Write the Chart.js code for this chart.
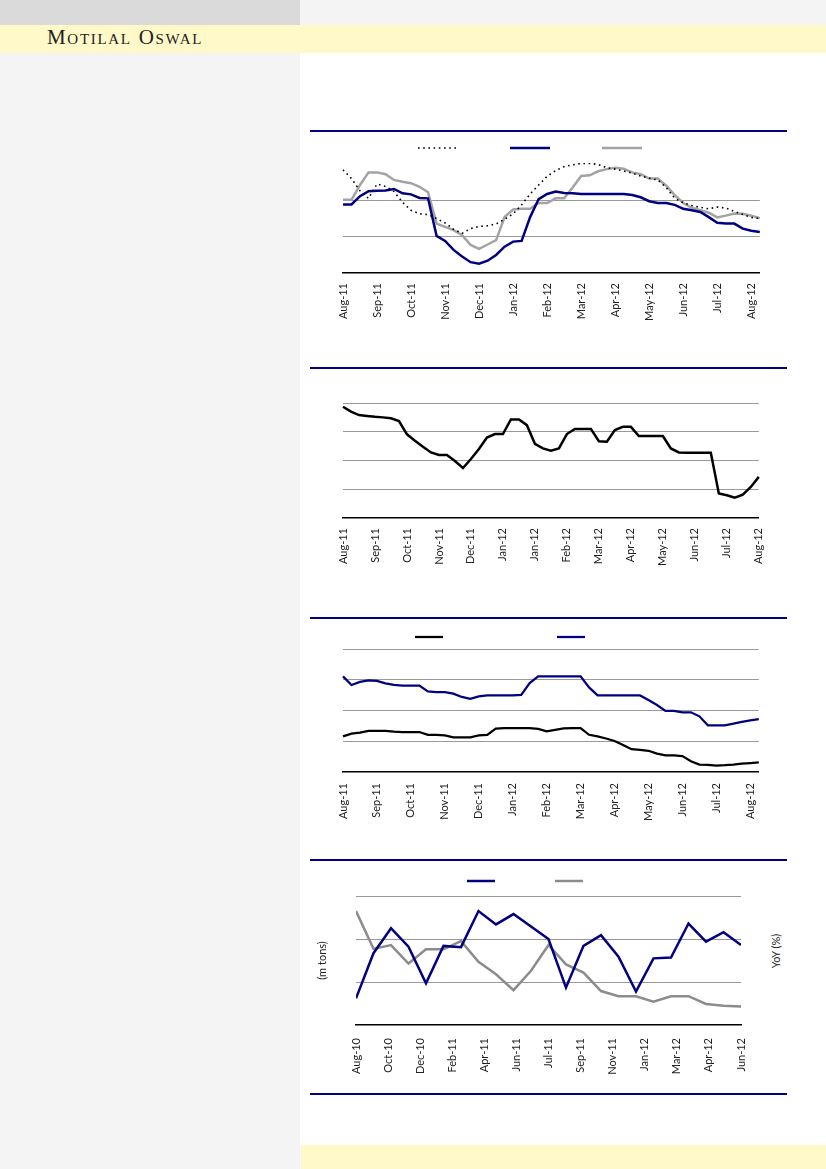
<!DOCTYPE html>
<html>
<head>
<meta charset="utf-8">
<script src="https://cdn.jsdelivr.net/npm/chart.js@4.4.1/dist/chart.umd.min.js"></script>
<style>
  body { margin: 0; width: 826px; height: 1169px; position: relative; overflow: hidden; background: #fff; font-family: Lato, sans-serif; }
  .abs { position: absolute; }
  #leftcol { left: 0; top: 0; width: 300px; height: 1169px; background: #f4f4f4; }
  #topright { left: 300px; top: 0; width: 526px; height: 25px; background: #f4f4f4; }
  #topleft { left: 0; top: 0; width: 300px; height: 25px; background: #dadada; }
  #band { left: 0; top: 25px; width: 826px; height: 28px; background: #fff8c9; }
  #brand { left: 47px; top: 25px; font-family: 'Liberation Serif', serif; font-variant: small-caps; font-size: 21px; letter-spacing: 1.7px; color: #222; }
  #footband { left: 301px; top: 1145px; width: 525px; height: 24px; background: #fff8c9; }
  .rule { left: 310px; width: 477px; height: 1.5px; background: #000080; }
  #yoy { left: 775px; top: 951px; transform: translate(-50%, -50%) rotate(-90deg); font-size: 11px; color: #222; white-space: nowrap; }
  canvas { position: absolute; }
</style>
</head>
<body>
<div class="abs" id="leftcol"></div>
<div class="abs" id="topright"></div>
<div class="abs" id="topleft"></div>
<div class="abs" id="band"></div>
<div class="abs" id="brand">Motilal Oswal</div>
<div class="abs" id="footband"></div>
<div class="abs rule" style="top:130px"></div>
<div class="abs rule" style="top:367px"></div>
<div class="abs rule" style="top:617px"></div>
<div class="abs rule" style="top:859px"></div>
<div class="abs rule" style="top:1093px"></div>
<div class="abs" id="yoy">YoY (%)</div>
<script>
// tick labels
const months1 = ['Aug-11', 'Sep-11', 'Oct-11', 'Nov-11', 'Dec-11', 'Jan-12', 'Feb-12', 'Mar-12', 'Apr-12', 'May-12', 'Jun-12', 'Jul-12', 'Aug-12'];
const months2 = ['Aug-11', 'Sep-11', 'Oct-11', 'Nov-11', 'Dec-11', 'Jan-12', 'Jan-12', 'Feb-12', 'Mar-12', 'Apr-12', 'May-12', 'Jun-12', 'Jul-12', 'Aug-12'];
const months3 = ['Aug-11', 'Sep-11', 'Oct-11', 'Nov-11', 'Dec-11', 'Jan-12', 'Feb-12', 'Mar-12', 'Apr-12', 'May-12', 'Jun-12', 'Jul-12', 'Aug-12'];
const months4 = ['Aug-10', 'Oct-10', 'Dec-10', 'Feb-11', 'Apr-11', 'Jun-11', 'Jul-11', 'Sep-11', 'Nov-11', 'Jan-12', 'Mar-12', 'Apr-12', 'Jun-12'];

// chart 1 (weekly)
const c1Dotted = [2.86, 2.62, 2.28, 2.07, 2.47, 2.40, 2.26, 1.96, 1.74, 1.64, 1.62, 1.51, 1.39, 1.21, 1.10, 1.23, 1.29, 1.31, 1.36, 1.49, 1.64, 1.89, 2.19, 2.44, 2.68, 2.84, 2.95, 3.00, 3.04, 3.04, 3.01, 2.92, 2.88, 2.83, 2.77, 2.69, 2.63, 2.58, 2.37, 2.07, 1.95, 1.87, 1.82, 1.78, 1.83, 1.80, 1.71, 1.62, 1.54, 1.51];
const c1Navy = [1.90, 1.90, 2.13, 2.27, 2.28, 2.29, 2.33, 2.21, 2.18, 2.08, 2.07, 1.03, 0.89, 0.64, 0.46, 0.30, 0.26, 0.34, 0.50, 0.73, 0.87, 0.89, 1.55, 2.05, 2.19, 2.26, 2.22, 2.21, 2.19, 2.19, 2.19, 2.19, 2.19, 2.19, 2.16, 2.10, 1.99, 1.94, 1.94, 1.89, 1.78, 1.74, 1.69, 1.55, 1.39, 1.37, 1.37, 1.23, 1.17, 1.14];
const c1Grey = [2.03, 2.03, 2.44, 2.79, 2.79, 2.74, 2.58, 2.53, 2.49, 2.39, 2.24, 1.37, 1.28, 1.19, 1.05, 0.78, 0.67, 0.79, 0.91, 1.55, 1.76, 1.78, 1.78, 1.94, 1.94, 2.07, 2.07, 2.37, 2.69, 2.71, 2.82, 2.88, 2.92, 2.89, 2.79, 2.74, 2.62, 2.62, 2.42, 2.16, 1.94, 1.81, 1.74, 1.67, 1.54, 1.59, 1.65, 1.64, 1.59, 1.52];

// chart 2 (weekly)
const c2Black = [3.87, 3.70, 3.58, 3.55, 3.52, 3.50, 3.47, 3.37, 2.91, 2.69, 2.48, 2.28, 2.19, 2.19, 1.98, 1.74, 2.05, 2.40, 2.80, 2.92, 2.92, 3.43, 3.43, 3.23, 2.58, 2.42, 2.34, 2.42, 2.92, 3.10, 3.10, 3.10, 2.67, 2.65, 3.06, 3.17, 3.17, 2.85, 2.85, 2.85, 2.85, 2.42, 2.28, 2.27, 2.27, 2.27, 2.27, 0.85, 0.79, 0.71, 0.81, 1.08, 1.43];

// chart 3 (weekly)
const c3Black = [1.16, 1.25, 1.28, 1.34, 1.34, 1.34, 1.31, 1.30, 1.30, 1.30, 1.21, 1.21, 1.19, 1.13, 1.13, 1.13, 1.19, 1.21, 1.41, 1.43, 1.43, 1.43, 1.43, 1.40, 1.32, 1.37, 1.42, 1.43, 1.43, 1.21, 1.16, 1.09, 1.01, 0.88, 0.74, 0.72, 0.69, 0.60, 0.54, 0.54, 0.52, 0.35, 0.24, 0.23, 0.21, 0.22, 0.24, 0.27, 0.29, 0.31];
const c3Navy = [3.11, 2.83, 2.93, 2.98, 2.96, 2.88, 2.83, 2.81, 2.81, 2.81, 2.62, 2.60, 2.60, 2.55, 2.44, 2.38, 2.46, 2.49, 2.49, 2.49, 2.49, 2.51, 2.89, 3.11, 3.11, 3.11, 3.11, 3.11, 3.11, 2.75, 2.49, 2.49, 2.49, 2.49, 2.49, 2.49, 2.34, 2.18, 1.99, 1.99, 1.94, 1.94, 1.81, 1.52, 1.52, 1.52, 1.57, 1.63, 1.68, 1.72];

// chart 4 (monthly): volume (m tons) and YoY (%)
const c4Navy = [0.62, 1.67, 2.25, 1.82, 0.97, 1.84, 1.81, 2.65, 2.34, 2.58, 2.29, 2.00, 0.87, 1.84, 2.09, 1.59, 0.78, 1.55, 1.57, 2.36, 1.94, 2.16, 1.86];
const c4Grey = [2.65, 1.77, 1.86, 1.43, 1.76, 1.76, 1.95, 1.47, 1.18, 0.81, 1.26, 1.86, 1.41, 1.22, 0.79, 0.67, 0.67, 0.54, 0.67, 0.67, 0.49, 0.45, 0.43];

Chart.defaults.font.family = 'Lato';
Chart.defaults.animation = false;

const NAVY = '#000080';

// one label on every 4th week
function weekLabels(months, n) {
    return Array.from({ length: n }, (_, i) => i % 4 === 0 ? (months[i / 4] || '') : '');
}

function xAxis(h, pad) {
    return {
        grid: { display: false, drawTicks: false },
        border: { display: true, color: '#000', width: 1.5 },
        ticks: { autoSkip: false, maxRotation: 90, minRotation: 90, padding: pad, color: '#222', font: { size: 11 } },
        afterFit: s => { s.height = h; }
    };
}

function yAxis(w, max, lines) {
    return {
        min: 0,
        max: max,
        ticks: { display: false, stepSize: 1 },
        border: { display: false },
        grid: {
            drawTicks: false,
            lineWidth: 1,
            color: c => (c.tick && lines.includes(c.tick.value)) ? '#999999' : 'rgba(0,0,0,0)'
        },
        afterFit: s => { s.width = w; }
    };
}

function legendOpts(size, boxW, pad) {
    return {
        display: true,
        position: 'top',
        align: 'center',
        labels: {
            usePointStyle: true,
            pointStyle: 'line',
            pointStyleWidth: boxW,
            padding: pad,
            font: { size: size },
            generateLabels: ch => ch.data.datasets.map((d, i) => ({
                text: '',
                strokeStyle: d.borderColor,
                fillStyle: d.borderColor,
                lineWidth: d.borderWidth,
                lineDash: d.borderDash || [],
                pointStyle: 'line',
                datasetIndex: i
            }))
        }
    };
}

function line(data, color, width, dash) {
    return { data: data, borderColor: color, borderWidth: width, borderDash: dash || [], pointRadius: 0, tension: 0, fill: false };
}

function make(left, top, w, h, config) {
    const c = document.createElement('canvas');
    c.width = w;
    c.height = h;
    c.style.left = left + 'px';
    c.style.top = top + 'px';
    document.body.appendChild(c);
    config.options.responsive = false;
    return new Chart(c, config);
}

// Chart 1
make(292, 96, 491, 232, {
    type: 'line',
    data: {
        labels: weekLabels(months1, c1Navy.length),
        datasets: [
            line(c1Dotted, '#000', 1.6, [1.6, 3.6]),
            line(c1Navy, NAVY, 2.5),
            line(c1Grey, '#a3a3a3', 2.5)
        ]
    },
    options: {
        layout: { padding: { left: 0, right: 10, top: 0, bottom: 0 } },
        scales: { x: xAxis(55, 10), y: yAxis(51, 3.05, [1, 2]) },
        plugins: { legend: legendOpts(10, 40, 47), tooltip: { enabled: false } }
    }
});

// Chart 2
make(310, 398, 472, 175, {
    type: 'line',
    data: {
        labels: weekLabels(months2, c2Black.length),
        datasets: [line(c2Black, '#000', 2.5)]
    },
    options: {
        layout: { padding: { left: 0, right: 10, top: 5, bottom: 0 } },
        scales: { x: xAxis(55, 10), y: yAxis(33, 4, [1, 2, 3, 4]) },
        plugins: { legend: { display: false }, tooltip: { enabled: false } }
    }
});

// Chart 3
make(229, 523, 554, 304, {
    type: 'line',
    data: {
        labels: weekLabels(months3, c3Navy.length),
        datasets: [
            line(c3Black, '#000', 2.25),
            line(c3Navy, NAVY, 2.25)
        ]
    },
    options: {
        layout: { padding: { left: 0, right: 10, top: 0, bottom: 0 } },
        scales: { x: xAxis(55, 11), y: yAxis(114, 4, [1, 2, 3, 4]) },
        plugins: { legend: legendOpts(4, 28, 112), tooltip: { enabled: false } }
    }
});

// Chart 4
const x4 = xAxis(60, 13);
x4.type = 'linear';
x4.min = 0;
x4.max = c4Navy.length - 1;
x4.afterBuildTicks = s => {
    s.ticks = months4.map((_, i) => ({ value: i * (c4Navy.length - 1) / (months4.length - 1) }));
};
x4.ticks.callback = (v, i) => months4[i];

const y4 = yAxis(82, 3, [1, 2, 3]);
y4.position = 'left';
y4.title = { display: true, text: '(m tons)', color: '#222', font: { size: 11 }, padding: { top: 42, bottom: 0 } };

make(274, 821, 507, 264, {
    type: 'line',
    data: {
        datasets: [
            Object.assign(line(c4Navy.map((v, i) => ({ x: i, y: v })), NAVY, 2.5), { yAxisID: 'y' }),
            Object.assign(line(c4Grey.map((v, i) => ({ x: i, y: v })), '#8c8c8c', 2.5), { yAxisID: 'y1' })
        ]
    },
    options: {
        layout: { padding: { left: 0, right: 0, top: 0, bottom: 0 } },
        scales: {
            x: x4,
            y: y4,
            y1: {
                position: 'right', min: 0, max: 3,
                ticks: { display: false }, grid: { display: false }, border: { display: false },
                afterFit: s => { s.width = 40; }
            }
        },
        plugins: { legend: legendOpts(10, 28, 55), tooltip: { enabled: false } }
    }
});
</script>
</body>
</html>
